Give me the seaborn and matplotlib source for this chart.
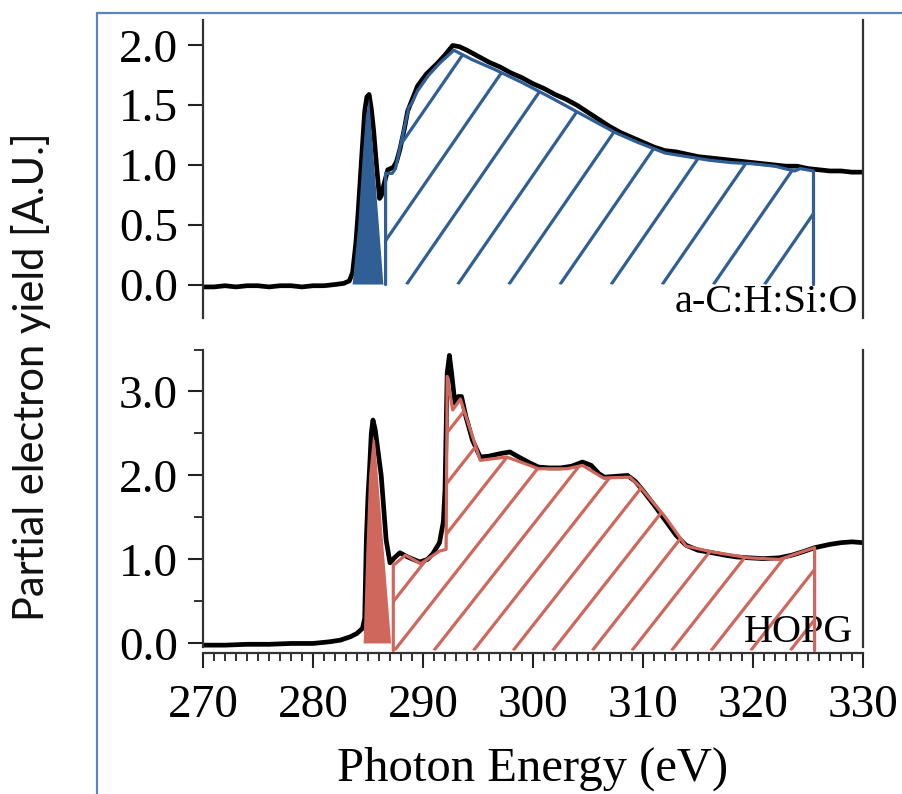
import numpy as np
import pandas as pd
import matplotlib
matplotlib.use("Agg")
import matplotlib.pyplot as plt
import seaborn as sns
from matplotlib.patches import Polygon
from matplotlib.lines import Line2D

# ---------------- data ----------------
top_energy = [270.0, 271.0, 272.0, 273.0, 274.0, 275.0, 276.0, 277.0, 278.0, 279.0, 280.0, 281.0, 282.0,
              282.8, 283.3, 283.6, 283.9, 284.1, 284.4, 284.7, 284.9, 285.1, 285.3, 285.5, 285.8, 286.05,
              286.2, 286.4, 286.8, 287.3, 287.6, 287.9, 288.3, 288.6, 288.9, 289.5, 290.3, 291.3, 292.0,
              292.7, 293.3, 294.0,
              295.0, 296.0, 297.0, 298.0, 299.0, 300.0, 301.0, 302.0, 303.0, 304.0, 305.0, 306.0, 307.0,
              308.0, 309.0, 310.0, 311.0, 312.0, 313.0, 314.0, 315.0, 316.0, 317.0, 318.0, 319.0, 320.0,
              321.0, 322.0, 323.0, 324.0, 325.0, 326.0, 327.0, 328.0, 329.0, 330.0]
top_yield = [-0.02, -0.02, -0.01, -0.02, -0.01, -0.01, -0.02, -0.01, -0.01, -0.02, -0.01, -0.01, 0.00,
             0.01, 0.03, 0.10, 0.35, 0.60, 1.03, 1.45, 1.57, 1.59, 1.47, 1.30, 0.97, 0.72,
             0.74, 0.82, 0.96, 0.98, 1.03, 1.13, 1.30, 1.45, 1.52, 1.66, 1.76, 1.85, 1.92,
             2.00, 1.99, 1.96,
             1.91, 1.86, 1.82, 1.77, 1.73, 1.68, 1.64, 1.59, 1.55, 1.50, 1.44, 1.38, 1.32,
             1.27, 1.23, 1.19, 1.15, 1.12, 1.11, 1.09, 1.07, 1.06, 1.05, 1.04, 1.03, 1.02,
             1.01, 1.00, 0.99, 0.99, 0.97, 0.96, 0.95, 0.95, 0.94, 0.94]

hopg_energy = [270, 272, 274, 276, 278, 280, 281.5, 282.5, 283.4, 284.0, 284.5, 284.7, 284.85, 285.0,
               285.15, 285.3, 285.45, 285.65, 285.9, 286.2, 286.65, 287.0, 287.4, 287.9, 288.6, 289.7,
               290.4, 290.9, 291.5, 291.85, 292.0, 292.2, 292.4, 292.6, 292.9, 293.2, 293.5, 293.9,
               294.5, 295.2, 296.0, 297.0, 297.9, 298.7, 299.7, 300.5, 301.5, 302.5, 303.5, 304.5,
               305.3, 306.0, 306.5, 307.5, 308.6, 309.3, 310.0, 311.0, 312.0, 313.0, 313.9, 315.0,
               316.3, 317.5, 318.5, 319.6, 321.0, 322.4, 323.5, 324.5, 325.6, 327.0, 328.0, 329.0, 330.0]
hopg_yield = [-0.02, -0.02, -0.01, -0.01, 0.00, 0.00, 0.02, 0.04, 0.08, 0.12, 0.18, 0.30, 1.23, 1.75,
              2.10, 2.50, 2.66, 2.55, 2.30, 2.00, 1.23, 0.96, 1.02, 1.08, 1.03, 0.97,
              1.00, 1.07, 1.20, 1.45, 1.83, 3.22, 3.43, 3.22, 2.86, 2.94, 2.94, 2.70,
              2.42, 2.22, 2.23, 2.26, 2.28, 2.22, 2.15, 2.10, 2.09, 2.09, 2.11, 2.16,
              2.12, 2.02, 1.98, 1.99, 2.00, 1.93, 1.82, 1.65, 1.47, 1.29, 1.17, 1.11,
              1.08, 1.05, 1.03, 1.02, 1.01, 1.02, 1.05, 1.09, 1.14, 1.18, 1.20, 1.21, 1.20]

# pi* peak areas (filled) and sigma* areas (hatched outlines)
blue_pi_E = [283.6, 284.1, 284.5, 284.8, 285.1, 286.4]
blue_pi_y = [0.0, 0.48, 1.04, 1.40, 1.56, 0.0]
blue_out_E = [286.6, 286.6, 287.2, 287.5, 288.7, 289.0, 289.5, 290.5, 291.5, 292.8,
              294.5, 296.5, 299.0, 301.5, 304.5, 307.5, 309.5, 312.0, 314.0, 316.0,
              318.0, 320.0, 322.0, 323.3, 323.8, 324.3, 325.5, 325.5]
blue_out_y = [0.0, 0.93, 0.93, 0.97, 1.48, 1.52, 1.62, 1.75, 1.85, 1.96,
              1.88, 1.80, 1.69, 1.57, 1.42, 1.27, 1.19, 1.10, 1.07, 1.04,
              1.02, 1.01, 0.99, 0.96, 0.95, 0.97, 0.95, 0.0]

red_pi_E = [284.6, 284.85, 285.1, 285.45, 285.65, 287.1]
red_pi_y = [0.0, 1.10, 2.00, 2.46, 2.40, 0.0]
red_out_E = [287.3, 287.3, 288.4, 289.8, 291.5, 292.1, 292.2, 292.7, 293.4, 295.2,
             297.6, 299.7, 300.5, 303.1, 304.5, 306.4, 308.8, 309.7, 312.0, 313.9,
             316.3, 319.6, 322.4, 325.6, 325.6]
red_out_y = [-0.085, 0.93, 1.05, 0.95, 1.10, 1.12, 3.18, 2.78, 2.91, 2.18,
             2.22, 2.12, 2.08, 2.08, 2.12, 1.97, 1.98, 1.87, 1.51, 1.16,
             1.09, 1.02, 1.00, 1.14, -0.085]

top_label = "a-C:H:Si:O"
bottom_label = "HOPG"
x_ticks = [270, 280, 290, 300, 310, 320, 330]
top_yticks = [0.0, 0.5, 1.0, 1.5, 2.0]
bot_yticks = [0.0, 1.0, 2.0, 3.0]
bot_yminor = [0.5, 1.5, 2.5, 3.5]

# ---------------- style ----------------
sns.set_theme(style="ticks")
plt.rcParams['font.family'] = ['Liberation Serif', 'DejaVu Serif']
plt.rcParams['axes.linewidth'] = 1.6
plt.rcParams['axes.edgecolor'] = '#333333'

BLUE = '#2f5f95'
RED = '#cf675c'
BORDER = '#5a86bd'
W, H = 902, 794

fig = plt.figure(figsize=(W / 100, H / 100), dpi=100)
ax1 = fig.add_axes([203 / W, 1 - 318 / H, 660 / W, 298 / H])
ax2 = fig.add_axes([203 / W, 1 - 652.7 / H, 660 / W, 303.2 / H])

for ax in (ax1, ax2):
    ax.set_facecolor('white')
    ax.set_xlim(270, 330)
ax1.set_ylim(-0.28, 2.213)
ax2.set_ylim(-0.11, 3.5)

df_top = pd.DataFrame({'E': top_energy, 'Y': top_yield})
df_hopg = pd.DataFrame({'E': hopg_energy, 'Y': hopg_yield})
sns.lineplot(data=df_top, x='E', y='Y', ax=ax1, color='black', lw=3.4,
             estimator=None, sort=False, zorder=2)
sns.lineplot(data=df_hopg, x='E', y='Y', ax=ax2, color='black', lw=3.4,
             estimator=None, sort=False, zorder=2)


def hatched_region(ax, E_out, y_out, start, spacing, slope_px, color):
    pts = np.column_stack([E_out, y_out])
    clip = Polygon(pts, closed=True, facecolor='none', edgecolor='none')
    ax.add_patch(clip)
    p0 = ax.transData.transform((0, 0))
    p1 = ax.transData.transform((1, 1))
    k = slope_px * (p1[0] - p0[0]) / (p1[1] - p0[1])  # data-y per eV
    y0 = min(y_out)
    ytop = max(y_out) + 0.3
    n_back = int(np.ceil(ytop / k / spacing)) + 1
    n_fwd = int((max(E_out) - start) / spacing) + 2
    for i in range(-n_back, n_fwd):
        s = start + i * spacing
        xs = [s + y0 / k, s + ytop / k]
        ln, = ax.plot(xs, [y0, ytop], color=color, lw=2.3, solid_capstyle='butt', zorder=3)
        ln.set_clip_path(clip)
    ax.plot(E_out, y_out, color=color, lw=2.3, zorder=4, solid_joinstyle='round')


ax1.fill(blue_pi_E, blue_pi_y, color=BLUE, lw=0, zorder=3)
hatched_region(ax1, blue_out_E, blue_out_y, 288.5, 4.65, 1.45, BLUE)
ax2.fill(red_pi_E, red_pi_y, color=RED, lw=0, zorder=3)
hatched_region(ax2, red_out_E, red_out_y, 287.9, 3.6, 1.27, RED)

# ---------------- axes styling ----------------
ax1.spines['top'].set_visible(False)
ax1.spines['bottom'].set_visible(False)
ax1.tick_params(axis='x', bottom=False, labelbottom=False)
ax1.set_yticks(top_yticks)
ax1.set_yticklabels([f"{v:.1f}" for v in top_yticks])
ax1.tick_params(axis='y', direction='out', length=11, width=1.5, pad=7,
                labelsize=34, colors='#222222', labelcolor='black')

ax2.spines['top'].set_visible(False)
ax2.spines['left'].set_bounds(-0.04, 3.5)
ax2.spines['right'].set_bounds(-0.04, 3.5)
ax2.set_xticks(x_ticks)
ax2.set_xticks(np.arange(270, 331, 1), minor=True)
ax2.set_yticks(bot_yticks)
ax2.set_yticklabels([f"{v:.1f}" for v in bot_yticks])
ax2.set_yticks(bot_yminor, minor=True)
ax2.tick_params(axis='y', which='major', direction='out', length=11, width=1.5, pad=7,
                labelsize=34, colors='#222222', labelcolor='black')
ax2.tick_params(axis='y', which='minor', direction='out', length=6.5, width=1.3, colors='#222222')
ax2.tick_params(axis='x', which='major', direction='out', length=11, width=1.5, pad=12,
                labelsize=34, colors='#222222', labelcolor='black')
ax2.tick_params(axis='x', which='minor', direction='out', length=6, width=1.3, colors='#222222')
ax1.set_xlabel('')
ax1.set_ylabel('')
ax2.set_ylabel('')
ax2.set_xlabel('Photon Energy (eV)', fontsize=35, labelpad=14, color='black')

ax1.text(0.992, 0.02, top_label, transform=ax1.transAxes, ha='right', va='baseline',
         fontsize=29, color='black')
ax2.text(0.985, 0.036, bottom_label, transform=ax2.transAxes, ha='right', va='baseline',
         fontsize=29, color='black')

fig.text(31 / W, 1 - 377 / H, 'Partial electron yield [A.U.]', rotation=90,
         ha='center', va='center', fontsize=30, family=['Lato', 'DejaVu Sans'], color='#111111')

# frame lines around the panel
fig.add_artist(Line2D([97 / W, 97 / W], [0, 1 - 13 / H], transform=fig.transFigure,
                      color=BORDER, lw=1.6))
fig.add_artist(Line2D([97 / W, 1.0], [1 - 13 / H, 1 - 13 / H], transform=fig.transFigure,
                      color=BORDER, lw=1.6))

fig.savefig('out.png', dpi=100, facecolor='white')
